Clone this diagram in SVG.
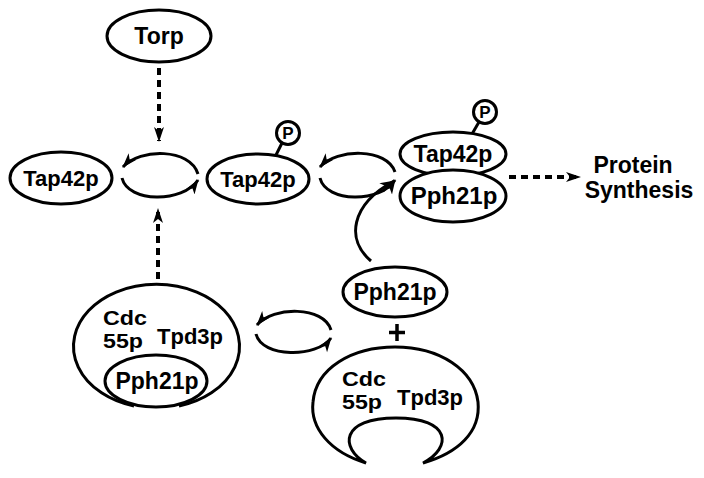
<svg xmlns="http://www.w3.org/2000/svg" width="704" height="478" viewBox="0 0 704 478">
<style>
.s{fill:none;stroke:#000;stroke-width:3}
.n{fill:#fff;stroke:#000;stroke-width:3}
.d{fill:none;stroke:#000;stroke-width:4;stroke-dasharray:7,5}
text{font-family:"Liberation Sans",Arial,sans-serif;font-weight:bold;font-size:23px;fill:#000}
.m{text-anchor:middle}
.p{font-size:17px}
.c{font-size:22px}
.t{font-size:20px}
</style>
<defs>
<marker id="ah" markerUnits="userSpaceOnUse" markerWidth="16" markerHeight="12" refX="14" refY="5" orient="auto">
<path d="M0,0 L15,5 L0,10 L4,5 z" fill="#000"/>
</marker>
</defs>
<g id="connectors">
<line class="d" x1="159" y1="68" x2="159" y2="141" marker-end="url(#ah)"/>
<line class="d" x1="158" y1="279" x2="158" y2="209" marker-end="url(#ah)"/>
<line class="d" x1="509" y1="177" x2="580" y2="177" marker-end="url(#ah)"/>
<path class="s" d="M198,174 C190,148 140,148 123,167" marker-end="url(#ah)"/>
<path class="s" d="M122,178 C128,203 183,203 198,180" marker-end="url(#ah)"/>
<path class="s" d="M395,172 C387,148 337,148 320,167" marker-end="url(#ah)"/>
<path class="s" d="M320,178 C326,203 381,203 395,180" marker-end="url(#ah)"/>
<path class="s" d="M371,261 C346,240 350,205 394,181" marker-end="url(#ah)"/>
<path class="s" d="M331,330 C324,306 273,306 257,325" marker-end="url(#ah)"/>
<path class="s" d="M256,334 C262,358 317,358 331,338" marker-end="url(#ah)"/>
</g>
<g id="torp">
<ellipse class="n" cx="159" cy="36" rx="52" ry="26"/>
<text class="m" x="159" y="44">Torp</text>
</g>
<g id="tap42p-left">
<ellipse class="n" cx="61" cy="178" rx="51" ry="26"/>
<text class="m" x="61" y="186" style="font-size:22px">Tap42p</text>
</g>
<g id="tap42p-p">
<line class="s" x1="282" y1="143" x2="276" y2="155"/>
<circle class="n" cx="288" cy="133" r="11.5"/>
<text class="m p" x="288" y="139">P</text>
<ellipse class="n" cx="258" cy="179" rx="51" ry="25"/>
<text class="m" x="258" y="187" style="font-size:22px">Tap42p</text>
</g>
<g id="complex">
<line class="s" x1="479" y1="122" x2="472" y2="134"/>
<circle class="n" cx="485" cy="112" r="11.5"/>
<text class="m p" x="485" y="118">P</text>
<ellipse class="n" cx="453" cy="154" rx="53" ry="22"/>
<text class="m" x="453" y="162">Tap42p</text>
<ellipse class="n" cx="453" cy="196" rx="53" ry="26"/>
<text class="m" x="454" y="204" style="font-size:24px">Pph21p</text>
</g>
<g id="protein-synthesis">
<text class="m" x="633" y="173">Protein</text>
<text class="m" x="639" y="198">Synthesis</text>
</g>
<g id="cdc-complex">
<path class="s" d="M134,406 A83,62 0 1 1 179,406"/>
<ellipse class="n" cx="156" cy="381" rx="51" ry="26"/>
<text class="m" x="157" y="389">Pph21p</text>
<text class="t" x="103" y="325" textLength="44" lengthAdjust="spacingAndGlyphs">Cdc</text>
<text class="t" x="103" y="348" textLength="40" lengthAdjust="spacingAndGlyphs">55p</text>
<text class="c" x="157" y="344">Tpd3p</text>
</g>
<g id="pph21p-free">
<ellipse class="n" cx="395" cy="292" rx="52" ry="25"/>
<text class="m" x="395" y="300">Pph21p</text>
</g>
<g id="plus">
<path d="M397,324 V341 M389,332.5 H405" stroke="#000" stroke-width="3.5" fill="none"/>
</g>
<g id="cdc-tpd3p">
<path class="s" d="M366,463 C330,452 310,428 313,402 C316,368 352,347 395,347 C440,347 474,370 478,402 C481,432 458,453 423,463 C452,448 452,418 396,418 C340,418 340,448 366,463 Z"/>
<text class="t" x="342" y="386" textLength="44" lengthAdjust="spacingAndGlyphs">Cdc</text>
<text class="t" x="342" y="409" textLength="40" lengthAdjust="spacingAndGlyphs">55p</text>
<text class="c" x="397" y="405">Tpd3p</text>
</g>
</svg>
